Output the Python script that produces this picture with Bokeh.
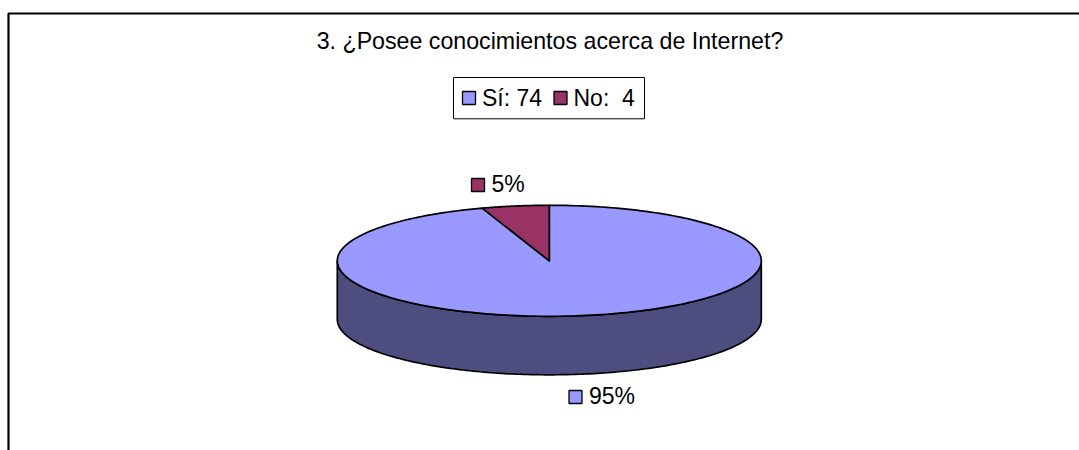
import numpy as np
from bokeh.core.properties import value
from bokeh.embed import file_html
from bokeh.models import Range1d
from bokeh.plotting import figure
from bokeh.resources import INLINE

title = "3. ¿Posee conocimientos acerca de Internet?"
categories = ["Sí", "No"]
counts = [74, 4]
colors = ["#9999FF", "#993366"]
side_color = "#4D4D80"

FONT = value("Liberation Sans")
SIZE = "23px"
W, H = 1079, 450
p = figure(width=W, height=H, output_backend="svg", toolbar_location=None,
           x_range=Range1d(0, W), y_range=Range1d(H, 0), min_border=0,
           x_axis_type=None, y_axis_type=None, outline_line_color=None,
           background_fill_color="white", border_fill_color="white")
p.grid.visible = False

# document frame (only top and left show)
p.line([8, 8, W], [H, 13, 13], line_color="black", line_width=2.2)

cx, cy, rx, ry, depth = 548.8, 260.3, 212, 55.5, 58.5
TEXT_DY = -8


def pt(t):
    return cx + rx * np.sin(t), cy - ry * np.cos(t)


# side wall
t = np.linspace(np.pi / 2, 3 * np.pi / 2, 181)
x, y = pt(t)
p.patch(np.r_[x, x[::-1]], np.r_[y + depth, y[::-1]], fill_color=side_color,
        line_color="black", line_width=1.7)

# top face: slices run clockwise from 12 o'clock, the last ends at 12 o'clock
frac = np.array(counts) / sum(counts)
start = 0.0
for f, c in zip(frac, colors):
    t = np.linspace(start, start + f * 2 * np.pi, 240)
    x, y = pt(t)
    p.patch(np.r_[cx, x], np.r_[cy, y], fill_color=c, line_color="black",
            line_width=1.7, line_join="round")
    start += f * 2 * np.pi

# title
p.text([549.5], [48.5 + TEXT_DY], text=[title], text_font=FONT, text_font_size="23.2px",
       text_align="center", text_baseline="alphabetic", text_color="black")

# legend
p.quad(left=[453], right=[644], top=[77], bottom=[118.3], fill_color="white",
       line_color="black", line_width=1)
swatch_x = [462, 553.5]
legend_x = [481.5, 573]
legend_labels = [f"{c}:\u00a0\u00a0{v}" if v < 10 else f"{c}: {v}"
                 for c, v in zip(categories, counts)]
p.quad(left=swatch_x, right=[s + 13 for s in swatch_x], top=[91] * 2, bottom=[104] * 2,
       fill_color=colors, line_color="black", line_width=1.3)
p.text(legend_x, [105 + TEXT_DY] * 2, text=legend_labels, text_font=FONT, text_font_size=SIZE,
       text_baseline="alphabetic", text_color="black")

# data labels
pct = [f"{round(100 * f)}%" for f in frac]
lab_sw_x = [568.5, 471]
lab_sw_y = [390, 178]
p.quad(left=lab_sw_x, right=[s + 13 for s in lab_sw_x], top=lab_sw_y,
       bottom=[s + 13 for s in lab_sw_y], fill_color=colors, line_color="black", line_width=1.3)
p.text([588.5, 491], [403 + TEXT_DY, 191 + TEXT_DY], text=pct, text_font=FONT, text_font_size=SIZE,
       text_baseline="alphabetic", text_color="black")

open("out.html", "w").write(file_html(p, INLINE))
